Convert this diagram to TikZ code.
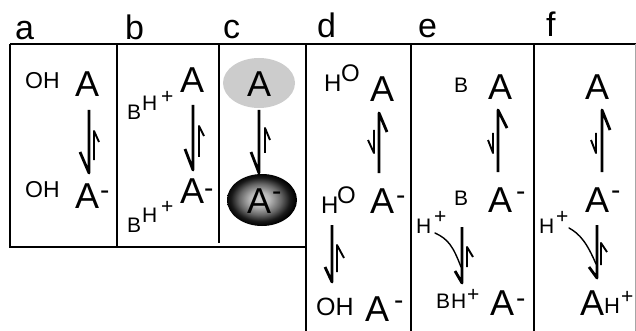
\documentclass[tikz,border=0pt]{standalone}
\usepackage{fontspec}
\setmainfont{Liberation Sans}
\pgfdeclareradialshading{blob}{\pgfpoint{-2bp}{1bp}}{%
  color(0bp)=(black!18); color(7bp)=(black!28); color(15bp)=(black!60);
  color(21bp)=(black!90); color(25bp)=(black); color(50bp)=(black)}
\begin{document}
\begin{tikzpicture}[x=1pt,y=-1pt,
  every node/.style={inner sep=0pt, anchor=base west},
  panel/.style={font=\fontsize{34}{34}\selectfont},
  molA/.style={font=\fontsize{36}{36}\selectfont},
  chg/.style={font=\fontsize{28}{28}\selectfont},
  sub/.style={font=\fontsize{21}{21}\selectfont},
  subW/.style={font=\fontsize{23}{23}\selectfont},
  subL/.style={font=\fontsize{24}{24}\selectfont},
  frame/.style={line width=1.3pt},
  longeq/.style={line width=2.8pt, line join=round, line cap=butt},
  shorteq/.style={line width=1.9pt, line join=round, line cap=butt},
  hook/.style={line width=1.4pt, line cap=round}]
\useasboundingbox (0,0) rectangle (636,331);

% panel frames
\draw[frame] (10,44) -- (636,44);
\draw[frame] (10,44) -- (10,247) -- (306,247);
\draw[frame] (117,44) -- (117,247);
\draw[frame] (219,44) -- (219,243);
\draw[frame] (306,44) -- (306,331);
\draw[frame] (411,44) -- (411,331);
\draw[frame] (534,44) -- (534,331);
\draw[line width=0.8pt, black!35] (635,44) -- (635,331);

% panel letters
\node[panel] (la) at (15,40) {a};
\node[panel] (lb) at (125,40) {b};
\node[panel] (lc) at (223,39) {c};
\node[panel] (ld) at (317,38) {d};
\node[panel] (le) at (418,38) {e};
\node[panel] (lf) at (546,37) {f};

% ---- a ----
\node[subW] (aoh1) at (25,89) {OH};
\node[molA] (aA) at (75,97) {A};
\node[subW] (aoh2) at (25,197) {OH};
\node[molA] (aAm) at (75,208) {A};
\node[chg] (aAmc) at (100,199) {-};
\draw[longeq] (89,110) -- (89,173) -- (80,152);
\draw[shorteq] (94,160) -- (94,131) -- (99,142);

% ---- b ----
\node[sub] (bB1) at (127,120) {B};
\node[sub] (bH1) at (142,111) {H};
\node[sub] (bp1) at (161,103.5) {+};
\node[molA] (bA) at (180,93) {A};
\node[sub] (bB2) at (127,232) {B};
\node[sub] (bH2) at (142,222) {H};
\node[sub] (bp2) at (161,213.5) {+};
\node[molA] (bAm) at (180,203) {A};
\node[chg] (bAmc) at (204,197) {-};
\draw[longeq] (193,105) -- (193,170) -- (185,149);
\draw[shorteq] (199,157) -- (199,126) -- (204,136);

% ---- c ----
\fill[black!20] (259,83) ellipse [x radius=36, y radius=25];
\shade[shading=blob] (262,200) ellipse [x radius=35, y radius=26];
\node[molA] (cA) at (247,97) {A};
\node[molA] (cAm) at (247,213) {A};
\node[chg] (cAmc) at (272,200) {-};
\draw[longeq] (259,110) -- (259,173) -- (251,152);
\draw[shorteq] (265,153) -- (265,128) -- (270,140);

% ---- d ----
\node[subL] (dH1) at (324,92) {H};
\node[subL] (dO1) at (341,82) {O};
\node[molA] (dA) at (370,102) {A};
\draw[longeq] (379,173) -- (379,113) -- (387,132);
\draw[shorteq] (374,130) -- (374,153) -- (368,140);
\node[subL] (dH2) at (321,213) {H};
\node[subL] (dO2) at (337,203) {O};
\node[molA] (dAm) at (370,213) {A};
\node[chg] (dAmc) at (396,204) {-};
\draw[longeq] (332,225) -- (332,282) -- (325,267);
\draw[shorteq] (337,272) -- (337,245) -- (344,258);
\node[font=\fontsize{25}{25}\selectfont] (dOH) at (316,315) {OH};
\node[molA] (dAm2) at (365,321) {A};
\node[chg] (dAm2c) at (394,309) {-};

% ---- e ----
\node[sub] (eB1) at (454,93) {B};
\node[molA] (eA) at (488,100) {A};
\draw[longeq] (498,172) -- (498,110) -- (507,128);
\draw[shorteq] (493,133) -- (493,153) -- (488,140);
\node[sub] (eB2) at (454,205) {B};
\node[molA] (eAm) at (488,212) {A};
\node[chg] (eAmc) at (516,200) {-};
\node[sub] (eH) at (416,233) {H};
\node[sub] (ep) at (434,223.5) {+};
\draw[hook] (435,233) .. controls (448,239) and (453,246) .. (461,267);
\draw[longeq] (462,227) -- (462,283) -- (455,271);
\draw[shorteq] (467,267) -- (467,247) -- (473,257);
\node[sub] (eB3) at (436,308) {B};
\node[sub] (eH3) at (451,308) {H};
\node[sub] (ep3) at (467,301.5) {+};
\node[molA] (eAm3) at (490,315) {A};
\node[chg] (eAm3c) at (516,307) {-};

% ---- f ----
\node[molA] (fA) at (585,100) {A};
\draw[longeq] (602,172) -- (602,110) -- (610,130);
\draw[shorteq] (596,133) -- (596,153) -- (591,140);
\node[molA] (fAm) at (585,212) {A};
\node[chg] (fAmc) at (611,199) {-};
\node[sub] (fH) at (539,233) {H};
\node[sub] (fp) at (556,223.5) {+};
\draw[hook] (569,228) .. controls (580,234) and (587,243) .. (596,264);
\draw[longeq] (597,225) -- (597,278) -- (589,267);
\draw[shorteq] (601,265) -- (601,243) -- (607,252);
\node[molA] (fAH) at (580,315) {A};
\node[font=\fontsize{22}{22}\selectfont] (fH3) at (604,313) {H};
\node[sub] (fp3) at (621,303.5) {+};
\end{tikzpicture}
\end{document}
